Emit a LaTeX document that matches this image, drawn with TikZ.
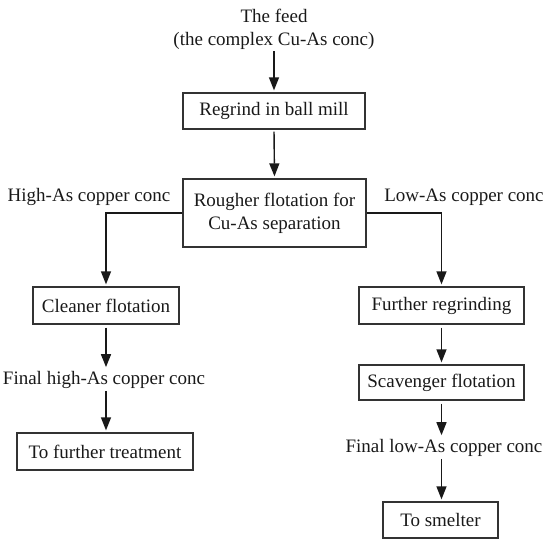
\documentclass[tikz,border=0pt]{standalone}
\usepackage{fontspec}
\setmainfont{Liberation Serif}
\usetikzlibrary{arrows.meta}
\begin{document}
\begin{tikzpicture}[x=1pt,y=-1pt,
  every node/.style={font=\fontsize{19}{23}\selectfont, text=black!90},
  procbox/.style={draw=black!80, line width=1.3pt, inner sep=0pt, align=center},
  lbl/.style={inner sep=2pt, align=center},
  flow/.style={draw=black!90, line width=1.4pt, -{Triangle[length=13pt,width=10pt]}, shorten >=2pt}]
\useasboundingbox (0,0) rectangle (550,546);
\node[lbl] (feed) at (274,29) {The feed\\(the complex Cu-As conc)};
\node[procbox, minimum width=182pt, minimum height=36pt] (regrind) at (274,111) {Regrind in ball mill};
\node[procbox, minimum width=183pt, minimum height=68pt] (rougher) at (274.5,213) {Rougher flotation for\\Cu-As separation};
\node[lbl] (high) at (89,197) {High-As copper conc};
\node[lbl] (low) at (464,197) {Low-As copper conc};
\node[procbox, minimum width=146pt, minimum height=37pt] (cleaner) at (106,305.5) {Cleaner flotation};
\node[lbl] (finalhigh) at (104,380) {Final high-As copper conc};
\node[procbox, minimum width=176pt, minimum height=37pt] (treat) at (105,451.5) {To further treatment};
\node[procbox, minimum width=165pt, minimum height=37pt] (further) at (441.5,305.5) {Further regrinding};
\node[procbox, minimum width=165pt, minimum height=35pt] (scav) at (441.5,382.5) {Scavenger flotation};
\node[lbl] (finallow) at (444,448) {Final low-As copper conc};
\node[procbox, minimum width=115pt, minimum height=36pt] (smelter) at (440.5,520) {To smelter};
\draw[flow] (feed.south) -- (regrind.north);
\draw[flow, shorten <=2pt] (regrind.south) -- (rougher.north);
\draw[flow] (rougher.west) -| (cleaner.north);
\draw[flow] (rougher.east) -| (further.north);
\draw[flow, shorten <=3pt] (cleaner.south) -- (cleaner.south |- finalhigh.north);
\draw[flow] (cleaner.south |- finalhigh.south) -- (cleaner.south |- treat.north);
\draw[flow, shorten <=3pt] (further.south) -- (scav.north);
\draw[flow, shorten <=3pt] (scav.south) -- (scav.south |- finallow.north);
\draw[flow] (scav.south |- finallow.south) -- (scav.south |- smelter.north);
\end{tikzpicture}
\end{document}
